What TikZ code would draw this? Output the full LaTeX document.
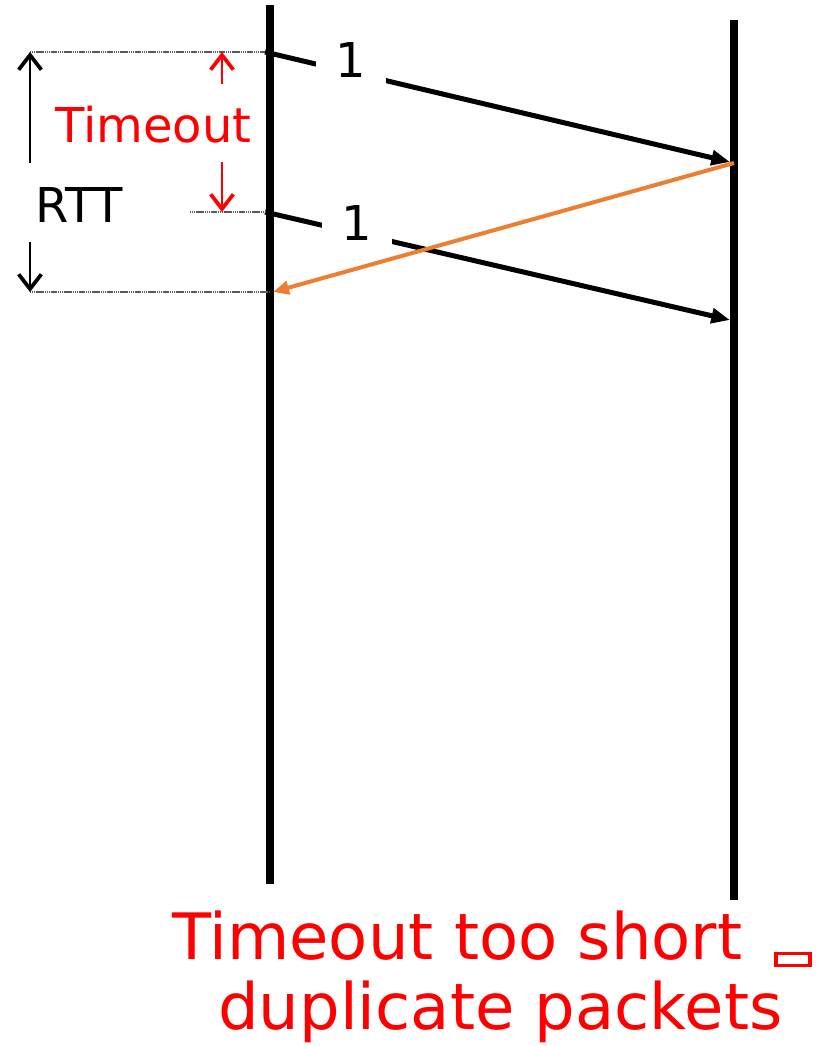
\documentclass[tikz,border=0pt]{standalone}
\usepackage{fontspec}
\setmainfont{DejaVu Sans}
\usetikzlibrary{arrows.meta}

\definecolor{ackorange}{RGB}{237,125,49}

\begin{document}
\begin{tikzpicture}[x=0.75pt, y=-0.75pt,
    lifeline/.style={line width=5.5pt},
    packet/.style={line width=3.75pt, -{Triangle[length=14pt, width=11pt]}},
    ack/.style={ackorange, line width=3pt, -{Triangle[length=12pt, width=10pt]}},
    guide/.style={gray!70!black, line width=2pt, dash pattern=on 1pt off 0.4pt},
    span/.style={line width=1.5pt, -{Straight Barb[length=11pt, width=17pt, line width=2.8pt]}},
    seqno/.style={fill=white, inner xsep=15pt, inner ysep=8pt, font=\fontsize{36}{43}\selectfont},
    tag/.style={inner sep=0pt, anchor=base west, font=\fontsize{36}{43}\selectfont},
    bigtag/.style={inner sep=0pt, anchor=base west, red, font=\fontsize{48}{56}\selectfont}
]
\useasboundingbox (0,0) rectangle (829,1046);

% ── LIFELINES ───────────────────────────────────────────────
\coordinate (senderTop) at (270,5);
\coordinate (senderBot) at (270,884);
\coordinate (recvTop) at (734,20);
\coordinate (recvBot) at (734,900);
\draw[lifeline] (senderTop) -- (senderBot);
\draw[lifeline] (recvTop) -- (recvBot);

% ── PACKETS ─────────────────────────────────────────────────
\coordinate (send1) at (265,52);
\coordinate (recv1) at (730,162);
\coordinate (send2) at (265,212);
\coordinate (recv2) at (730,320);
\coordinate (ackOut) at (734,163);
\coordinate (ackIn) at (273,292);

\draw[packet] (send1) -- (recv1);
\draw[packet] (send2) -- (recv2);
\draw[ack] (ackOut) -- (ackIn);

% sequence numbers sit on the lines
\node[seqno] (seq1) at (351,60) {1};
\node[seqno] (seq2) at (357,223) {1};

% ── GUIDES ──────────────────────────────────────────────────
\coordinate (rttTop) at (30,52);
\coordinate (rttBot) at (30,292);
\coordinate (toLeft) at (190,212);
\coordinate (ackLine) at (270,292);
\draw[guide] (rttTop) -- (send1);
\draw[guide] (toLeft) -- (send2);
\draw[guide] (rttBot) -- (ackLine);

% RTT span
\coordinate (rttUp) at (30,163);
\coordinate (rttDown) at (30,242);
\node[tag] (rtt) at (35,222) {RTT};
\draw[span] (rttUp) -- (rttTop);
\draw[span] (rttDown) -- (rttBot);

% Timeout span
\coordinate (toTop) at (222,52);
\coordinate (toUp) at (222,84);
\coordinate (toDown) at (222,162);
\coordinate (toBot) at (222,212);
\node[tag, red] (timeout) at (55,142) {Timeout};
\draw[span, red] (toUp) -- (toTop);
\draw[span, red] (toDown) -- (toBot);

% ── VERDICT ─────────────────────────────────────────────────
\node[bigtag] (verdict1) at (172,959) {Timeout too short\hspace{24pt}\raisebox{-3.75pt}{\setlength{\fboxsep}{0pt}\setlength{\fboxrule}{2.6pt}\fbox{\rule{0pt}{6.5pt}\hspace{23pt}}}};
\node[bigtag] (verdict2) at (218,1029) {duplicate packets};

\end{tikzpicture}
\end{document}
